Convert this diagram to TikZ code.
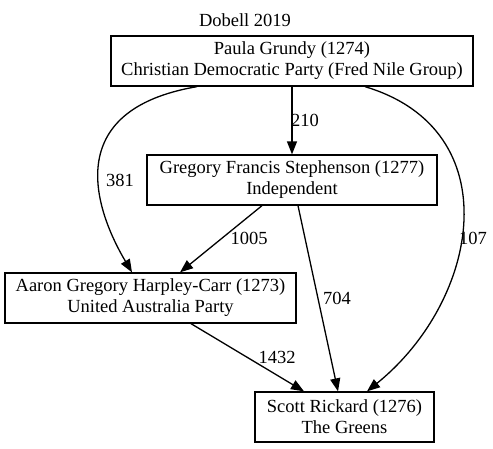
\documentclass[tikz,border=0pt]{standalone}
\usepackage{fontspec}
\setmainfont{Liberation Serif}
\usetikzlibrary{arrows.meta}
\begin{document}
\begin{tikzpicture}[x=1pt,y=-1pt,
  box/.style={draw,line width=1.3pt,inner sep=0pt,align=center,font=\fontsize{18.5}{21}\selectfont},
  lbl/.style={inner sep=0pt,font=\fontsize{18.5}{21}\selectfont},
  edge/.style={draw,line width=1.3pt,-{Triangle[length=13pt,width=10pt]}}]
\useasboundingbox (0,0) rectangle (493,448);
\node[lbl] (title) at (245,20) {Dobell 2019};
\node[box,minimum width=362pt,minimum height=50pt] (paula) at (292,61) {Paula Grundy (1274)\\Christian Democratic Party (Fred Nile Group)};
\node[box,minimum width=290pt,minimum height=50pt] (greg) at (292,180) {Gregory Francis Stephenson (1277)\\Independent};
\node[box,minimum width=291pt,minimum height=50pt] (aaron) at (150.5,298) {Aaron Gregory Harpley-Carr (1273)\\United Australia Party};
\node[box,minimum width=179pt,minimum height=50pt] (scott) at (344.5,417) {Scott Rickard (1276)\\The Greens};
% edges
\draw[edge] (paula) -- (greg);
\draw[edge] (paula.south -| 197,0) .. controls (60,110) and (95,210) .. (aaron.north -| 132,0);
\draw[edge] (paula.south -| 365,0) .. controls (510,130) and (480,300) .. (scott.north -| 367,0);
\draw[edge] (greg.south -| 262,0) -- (aaron.north -| 180,0);
\draw[edge] (greg.south -| 298,0) -- (scott.north -| 338,0);
\draw[edge] (aaron.south -| 191,0) -- (scott.north -| 304,0);
% labels
\node[lbl] (l210) at (305,120) {210};
\node[lbl] (l381) at (120,180) {381};
\node[lbl] (l1005) at (249,238) {1005};
\node[lbl] (l107) at (473,238) {107};
\node[lbl] (l704) at (337,298) {704};
\node[lbl] (l1432) at (277,357) {1432};
\end{tikzpicture}
\end{document}
